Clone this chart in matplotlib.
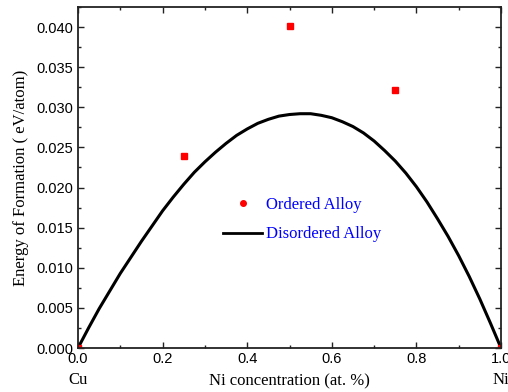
import numpy as np
import matplotlib
matplotlib.use("Agg")
import matplotlib.pyplot as plt
from matplotlib.lines import Line2D
from matplotlib.ticker import MultipleLocator
import matplotlib.transforms as mtransforms

plt.rcParams['font.family'] = ["Liberation Sans", "DejaVu Sans"]
serif = {"family": ["Liberation Serif", "DejaVu Serif"], "size": 12}

# ordered alloy energies
x_ordered = [0.0, 0.25, 0.5, 0.75, 1.0]
e_ordered = [0.0, 0.0239, 0.0401, 0.0322, 0.0]

# disordered alloy curve
x_disordered = [0.0, 0.025, 0.05, 0.075, 0.1, 0.125, 0.15, 0.175, 0.2, 0.225,
                0.25, 0.275, 0.3, 0.325, 0.35, 0.375, 0.4, 0.425, 0.45, 0.475,
                0.5, 0.525, 0.55, 0.575, 0.6, 0.625, 0.65, 0.675, 0.7, 0.725,
                0.75, 0.775, 0.8, 0.825, 0.85, 0.875, 0.9, 0.925, 0.95, 0.975,
                1.0]
e_disordered = [0.0, 0.0025, 0.0049, 0.0071, 0.0093, 0.0113, 0.0133, 0.0152,
                0.0171, 0.0188, 0.0204, 0.0219, 0.0232, 0.0244, 0.0255, 0.0265,
                0.0273, 0.0280, 0.0285, 0.0289, 0.0291, 0.0292, 0.0292, 0.0290,
                0.0287, 0.0282, 0.0276, 0.0268, 0.0258, 0.0246, 0.0233, 0.0218,
                0.0201, 0.0182, 0.0161, 0.0139, 0.0115, 0.0089, 0.0061, 0.0031,
                0.0]

fig = plt.figure(figsize=(5.08, 3.92), dpi=100)
ax = fig.add_axes([78 / 508, 1 - 348 / 392, 423 / 508, 341 / 392])

ax.plot(x_disordered, e_disordered, "-", color="black", lw=2.2)
ax.plot(x_ordered, e_ordered, "s", color="red", ms=5, mec="red")

ax.set_xlim(0, 1.0)
ax.set_ylim(0, 0.0425)
ax.xaxis.set_major_locator(MultipleLocator(0.2))
ax.xaxis.set_minor_locator(MultipleLocator(0.1))
ax.yaxis.set_major_locator(MultipleLocator(0.005))
ax.yaxis.set_minor_locator(MultipleLocator(0.0025))
ax.xaxis.set_major_formatter(plt.FormatStrFormatter("%.1f"))
ax.yaxis.set_major_formatter(plt.FormatStrFormatter("%.3f"))
ax.tick_params(which="both", direction="in", top=True, right=True, width=1,
               labelsize=10.5, colors="#222222", labelcolor="black")
ax.tick_params(which="major", length=4)
ax.tick_params(which="minor", length=2)
ax.tick_params(axis="x", pad=3)
for s in ax.spines.values():
    s.set_linewidth(1.3)
    s.set_color("#222222")

ax.set_xlabel("Ni concentration (at. %)", fontdict=serif, labelpad=5)
ax.set_ylabel("Energy of Formation ( eV/atom)", fontdict=serif, labelpad=5)

trans = mtransforms.blended_transform_factory(ax.transData, ax.transAxes)
ax.text(0.0, -0.095, "Cu", transform=trans, ha="center", va="center", fontdict=serif)
ax.text(1.0, -0.095, "Ni", transform=trans, ha="center", va="center", fontdict=serif)

handles = [Line2D([], [], marker="o", ls="", color="red", ms=4),
           Line2D([], [], color="black", lw=2)]
ax.legend(handles, ["Ordered Alloy", "Disordered Alloy"], loc="center left",
          bbox_to_anchor=(0.343, 0.376), frameon=False, borderpad=0,
          borderaxespad=0, handlelength=2.35, handletextpad=0.2,
          labelspacing=0.8, labelcolor="blue",
          prop={"family": ["Liberation Serif", "DejaVu Serif"], "size": 12})

fig.savefig("out.png", dpi=100)
